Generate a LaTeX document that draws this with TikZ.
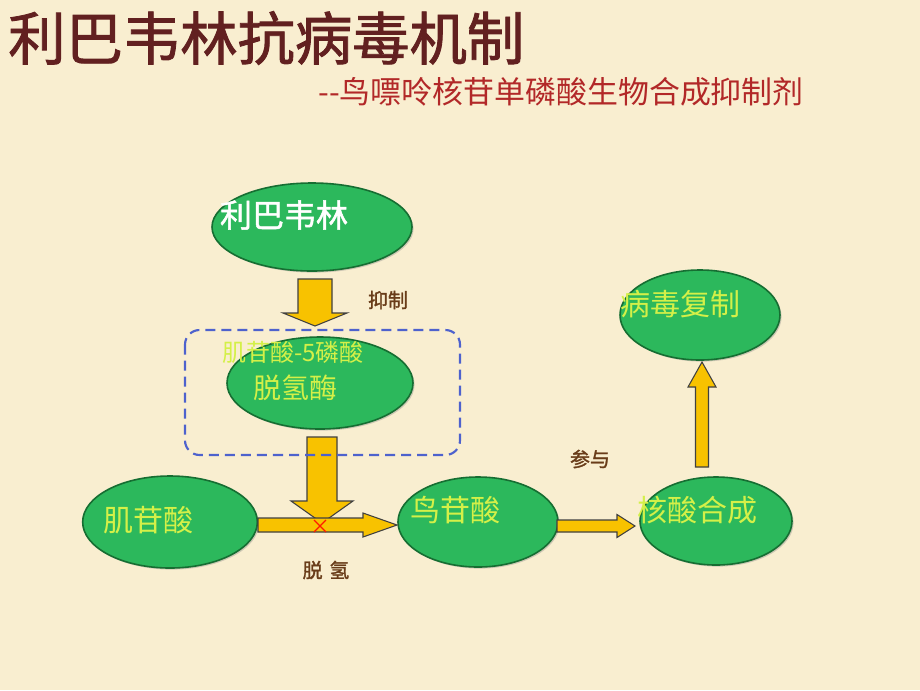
\documentclass[tikz,border=0pt]{standalone}
\usepackage{fontspec}
\setmainfont{Liberation Serif}
\newfontfamily\cjk{Noto Sans CJK SC}
\newfontfamily\cjkb[FakeBold=1.5]{Noto Sans CJK SC}
\usetikzlibrary{shapes.geometric,shadows}
\definecolor{bgc}{RGB}{249,238,208}
\definecolor{titlec}{RGB}{98,32,32}
\definecolor{subc}{RGB}{178,40,40}
\definecolor{ellc}{RGB}{44,184,92}
\definecolor{elld}{RGB}{22,110,50}
\definecolor{txtc}{RGB}{212,240,72}
\definecolor{labc}{RGB}{105,60,25}
\definecolor{arrc}{RGB}{248,194,0}
\definecolor{dashc}{RGB}{78,98,205}
\tikzset{
  oval/.style={ellipse, draw=elld, line width=1.2pt, fill=ellc, inner sep=0pt,
    drop shadow={shadow xshift=1.2pt, shadow yshift=-1.2pt, opacity=0.35}},
  intext/.style={text=txtc, font=\cjk\fontsize{#1}{#1}\selectfont, inner sep=0pt},
  lab/.style={text=labc, font=\cjkb\fontsize{15}{15}\selectfont, inner sep=0pt},
  arrsty/.style={draw=black!75, line width=0.8pt, fill=arrc, line join=miter}
}
% #1 start coordinate, #2 angle, #3 length, #4 shaft half width, #5 head half width, #6 head length
\newcommand\blockarr[6]{%
  \draw[arrsty, shift={(#1)}, rotate=#2] (0,-#4) -- ({#3-#6},-#4) -- ({#3-#6},-#5) -- (#3,0)
    -- ({#3-#6},#5) -- ({#3-#6},#4) -- (0,#4) -- cycle;}
\begin{document}
\begin{tikzpicture}[x=0.75pt,y=-0.75pt]
\fill[bgc] (0,0) rectangle (920,690);
\useasboundingbox (0,0) rectangle (920,690);

% titles
\node[anchor=west, text=titlec, font=\cjkb\fontsize{43}{43}\selectfont, inner sep=0pt] (title) at (8,38) {利巴韦林抗病毒机制};
\node[anchor=west, text=subc, font=\cjk\fontsize{23.2}{23.2}\selectfont, inner sep=0pt] (sub) at (318,92) {--鸟嘌呤核苷单磷酸生物合成抑制剂};

% arrow 1 (rib -> enzyme)
\coordinate (a1s) at (315,279);
\blockarr{a1s}{-90}{47}{17}{32}{13}

% arrow 2 (enzyme -> reaction)
\coordinate (a2s) at (322,437);
\blockarr{a2s}{-90}{86}{15}{31}{22}

% ellipses
\node[oval, minimum width=150pt, minimum height=66pt] (rib) at (312,227) {};
\node[oval, minimum width=139.5pt, minimum height=69pt] (enz) at (320,383) {};
\node[oval, minimum width=131pt, minimum height=69pt] (imp) at (170,522) {};
\node[oval, minimum width=120pt, minimum height=67.5pt] (gmp) at (478,522) {};
\node[oval, minimum width=114pt, minimum height=66pt] (nuc) at (716,521) {};
\node[oval, minimum width=120pt, minimum height=67.5pt] (vir) at (700,315) {};

% dashed box
\draw[dashc, line width=1.6pt, dash pattern=on 7.5pt off 4.5pt, rounded corners=11pt] (185,330) rectangle (460,455);

% horizontal arrows
\coordinate (a3s) at (258,525);
\blockarr{a3s}{0}{139}{7}{12}{34}
\coordinate (a4s) at (557,526);
\blockarr{a4s}{0}{78}{6}{11.5}{18}
% up arrow
\coordinate (a5s) at (702,467);
\blockarr{a5s}{90}{105}{6.5}{14}{25}

% red cross
\coordinate (xc) at (320,526);
\draw[red!80!orange, line width=0.9pt] ([shift={(-6,-6)}]xc) -- ([shift={(6,6)}]xc) ([shift={(-6,6)}]xc) -- ([shift={(6,-6)}]xc);

% texts in ellipses
\node[text=white, font=\cjkb\fontsize{24}{24}\selectfont, inner sep=0pt] (tr) at (284,215) {利巴韦林};
\node[intext=18] (te1) at (293,352) {肌苷酸-5磷酸};
\node[intext=21] (te2) at (295,388) {脱氢酶};
\node[intext=22.5] (ti) at (148,520) {肌苷酸};
\node[intext=22.5] (tg) at (455,510) {鸟苷酸};
\node[intext=22.5] (tn) at (697,510) {核酸合成};
\node[intext=22.5] (tv) at (680,304) {病毒复制};

% labels
\node[lab] (l1) at (388,300) {抑制};
\node[lab] (l2) at (590,459) {参与};
\node[lab] (l3) at (326,570) {脱\,\,氢};
\end{tikzpicture}
\end{document}
